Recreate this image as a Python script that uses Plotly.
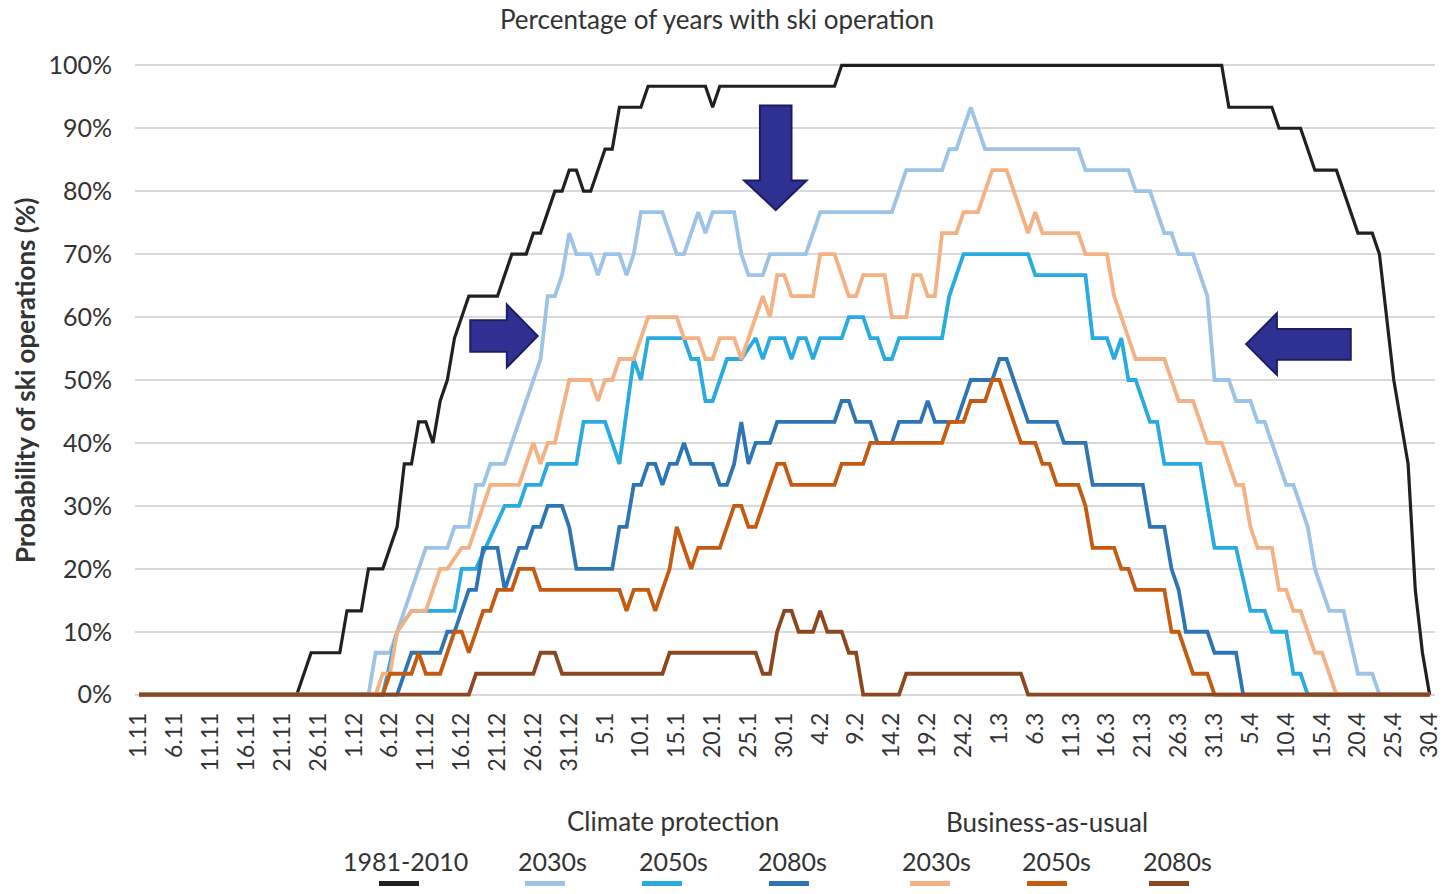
import plotly.graph_objects as go

# x = day index counted from 1 November (0) to 30 April (180)
# y = number of years (out of 30) with ski operation, read at each vertex
N_YEARS = 30

DATE_LABELS = ["1.11", "6.11", "11.11", "16.11", "21.11", "26.11", "1.12", "6.12",
               "11.12", "16.12", "21.12", "26.12", "31.12", "5.1", "10.1", "15.1",
               "20.1", "25.1", "30.1", "4.2", "9.2", "14.2", "19.2", "24.2", "1.3",
               "6.3", "11.3", "16.3", "21.3", "26.3", "31.3", "5.4", "10.4", "15.4",
               "20.4", "25.4", "30.4"]

ref_days = [0, 22, 24, 28, 29, 31, 32, 34, 36, 37, 38, 39, 40, 41, 42, 43, 44, 45, 46, 50,
            52, 54, 55, 56, 58, 59, 60, 61, 62, 63, 65, 66, 67, 70, 71, 79, 80, 81, 97, 98,
            151, 152, 158, 159, 162, 164, 167, 170, 172, 173, 174, 175, 176, 177, 178, 179, 180]
ref_years = [0, 0, 2, 2, 4, 4, 6, 6, 8, 11, 11, 13, 13, 12, 14, 15, 17, 18, 19, 19,
             21, 21, 22, 22, 24, 24, 25, 25, 24, 24, 26, 26, 28, 28, 29, 29, 28, 29, 29, 30,
             30, 28, 28, 27, 27, 25, 25, 22, 22, 21, 18, 15, 13, 11, 5, 2, 0]

cp30_days = [0, 32, 33, 35, 40, 43, 44, 46, 47, 48, 49, 51, 56, 57, 58, 59, 60, 61, 63, 64,
             65, 67, 68, 69, 70, 73, 75, 76, 78, 79, 80, 83, 84, 85, 87, 88, 93, 95, 105, 107,
             112, 113, 114, 116, 118, 131, 132, 138, 139, 141, 143, 144, 145, 147, 149, 150,
             152, 153, 155, 156, 157, 160, 161, 163, 164, 166, 168, 170, 172, 173, 180]
cp30_years = [0, 0, 2, 2, 7, 7, 8, 8, 10, 10, 11, 11, 16, 19, 19, 20, 22, 21, 21, 20,
              21, 21, 20, 21, 23, 23, 21, 21, 23, 22, 23, 23, 21, 20, 20, 21, 21, 23, 23, 25,
              25, 26, 26, 28, 26, 26, 25, 25, 24, 24, 22, 22, 21, 21, 19, 15,
              15, 14, 14, 13, 13, 10, 10, 8, 6, 4, 4, 1, 1, 0, 0]

cp50_days = [0, 34, 36, 38, 44, 45, 47, 51, 53, 54, 56, 57, 61, 62, 65, 67, 69, 70, 71, 76,
             77, 78, 79, 80, 82, 84, 86, 87, 88, 90, 91, 92, 93, 94, 95, 98, 99, 101, 102, 103,
             104, 105, 106, 112, 113, 115, 124, 125, 132, 133, 135, 136, 137, 138, 139, 141,
             142, 143, 148, 150, 153, 155, 157, 158, 160, 161, 162, 163, 180]
cp50_years = [0, 0, 3, 4, 4, 6, 6, 9, 9, 10, 10, 11, 11, 13, 13, 11, 16, 15, 17, 17,
              16, 16, 14, 14, 16, 16, 17, 16, 17, 17, 16, 17, 17, 16, 17, 17, 18, 18, 17, 17,
              16, 16, 17, 17, 19, 21, 21, 20, 20, 17, 17, 16, 17, 15, 15, 13,
              13, 11, 11, 7, 7, 4, 4, 3, 3, 1, 1, 0, 0]

cp80_days = [0, 36, 38, 42, 43, 44, 46, 47, 48, 50, 51, 53, 54, 55, 56, 57, 59, 60, 61, 66,
             67, 68, 69, 70, 71, 72, 73, 74, 75, 76, 77, 80, 81, 82, 83, 84, 85, 86, 88, 89,
             97, 98, 99, 100, 102, 103, 105, 106, 109, 110, 111, 114, 116, 119, 120, 121, 124,
             128, 129, 132, 133, 140, 141, 143, 144, 145, 146, 149, 150, 153, 154, 180]
cp80_years = [0, 0, 2, 2, 3, 3, 5, 5, 7, 7, 5, 7, 7, 8, 8, 9, 9, 8, 6, 6,
              8, 8, 10, 10, 11, 11, 10, 11, 11, 12, 11, 11, 10, 10, 11, 13, 11, 12, 12, 13,
              13, 14, 14, 13, 13, 12, 12, 13, 13, 14, 13, 13, 15, 15, 16, 16, 13,
              13, 12, 12, 10, 10, 8, 8, 6, 5, 3, 3, 2, 2, 0, 0]

bau30_days = [0, 33, 34, 35, 36, 38, 40, 42, 43, 45, 46, 49, 53, 55, 56, 57, 58, 60, 63, 64,
              65, 66, 67, 69, 71, 75, 76, 78, 79, 80, 81, 83, 84, 87, 88, 89, 90, 91, 94, 95,
              97, 99, 100, 101, 104, 105, 107, 108, 109, 110, 111, 112, 114, 115, 117, 119,
              121, 124, 125, 126, 131, 132, 135, 136, 139, 143, 144, 145, 147, 149, 151, 153,
              154, 155, 156, 158, 159, 160, 161, 162, 164, 165, 167, 180]
bau30_years = [0, 0, 1, 1, 3, 4, 4, 6, 6, 7, 7, 10, 10, 12, 11, 12, 12, 15, 15, 14,
               15, 15, 16, 16, 18, 18, 17, 17, 16, 16, 17, 17, 16, 19, 18, 20, 20, 19, 19, 21,
               21, 19, 19, 20, 20, 18, 18, 20, 20, 19, 19, 22, 22, 23, 23, 25,
               25, 22, 23, 22, 22, 21, 21, 19, 16, 16, 15, 14, 14, 12, 12, 10,
               10, 8, 7, 7, 5, 5, 4, 4, 2, 2, 0, 0]

bau50_days = [0, 34, 35, 38, 39, 40, 42, 44, 45, 46, 48, 49, 50, 52, 53, 55, 56, 67, 68, 69,
              71, 72, 74, 75, 77, 78, 81, 83, 84, 85, 86, 89, 90, 91, 97, 98, 101, 102, 112, 113,
              115, 116, 118, 119, 120, 123, 125, 126, 127, 128, 131, 132, 133, 136, 137, 138,
              139, 143, 144, 145, 147, 149, 150, 180]
bau50_years = [0, 0, 1, 1, 2, 1, 1, 3, 3, 2, 4, 4, 5, 5, 6, 6, 5, 5, 4, 5,
               5, 4, 6, 8, 6, 7, 7, 9, 9, 8, 8, 11, 11, 10, 10, 11, 11, 12, 12, 13,
               13, 14, 14, 15, 15, 12, 12, 11, 11, 10, 10, 9, 7, 7, 6, 6,
               5, 5, 3, 3, 1, 1, 0, 0]

bau80_days = [0, 46, 47, 55, 56, 58, 59, 73, 74, 86, 87, 88, 89, 90, 91, 92, 94, 95, 96, 98,
              99, 100, 101, 106, 107, 123, 124, 180]
bau80_years = [0, 0, 1, 1, 2, 2, 1, 1, 2, 2, 1, 1, 3, 4, 4, 3, 3, 4, 3, 3,
               2, 2, 0, 0, 1, 1, 0, 0]

SERIES = [
    ("1981-2010", ref_days, ref_years, "#231F20", 3.2),
    ("2030s", cp30_days, cp30_years, "#9DC3E6", 3.8),
    ("2050s", cp50_days, cp50_years, "#29ABE2", 3.8),
    ("2080s", cp80_days, cp80_years, "#2E75B6", 3.8),
    ("2030s", bau30_days, bau30_years, "#F4B183", 3.8),
    ("2050s", bau50_days, bau50_years, "#C55A11", 3.8),
    ("2080s", bau80_days, bau80_years, "#8B4720", 3.8),
]

# the page body has an 8px margin all round; size the figure so the page is exactly 1447x894
OFF = 8
W, H = 1447 - 2 * OFF, 894 - 2 * OFF
L, R, T, B = 135 - OFF, 1447 - 1435 - OFF, 59 - OFF, H - (701 - OFF)
PW, PH = W - L - R, H - T - B


def px(x):
    # screen pixel -> paper x
    return (x - OFF - L) / PW


def py(y):
    # screen pixel -> paper y
    return (H - B - (y - OFF)) / PH


fig = go.Figure()

for name, days, years, color, width in SERIES:
    fig.add_trace(go.Scatter(
        x=days, y=[v * 100 / N_YEARS for v in years], mode="lines", name=name,
        line=dict(color=color, width=width), showlegend=False,
        hovertemplate="%{y:.1f}%<extra>" + name + "</extra>"))

# navy block arrows
arrow_paths = [
    "M 46.2,54.5 L 51.3,54.5 L 51.3,52.0 L 55.6,57.0 L 51.3,62.0 L 51.3,59.5 L 46.2,59.5 Z",
    "M 86.6,93.6 L 91.0,93.6 L 91.0,81.7 L 93.1,81.7 L 88.8,77.0 L 84.4,81.7 L 86.6,81.7 Z",
    "M 154.4,55.7 L 158.7,60.6 L 158.7,58.1 L 169.0,58.1 L 169.0,53.2 L 158.7,53.2 L 158.7,50.8 Z",
]
for p in arrow_paths:
    fig.add_shape(type="path", path=p, xref="x", yref="y", layer="above",
                  fillcolor="#2E3192", line=dict(color="#1E1C60", width=2))

# custom legend: group headers, labels, and short line swatches below them
TXT = "#333333"
groups = [("Climate protection", 673, 821), ("Business-as-usual", 1047, 822)]
for text, gx, gy in groups:
    fig.add_annotation(text=text, x=px(gx), y=py(gy), xref="paper", yref="paper",
                       showarrow=False, xanchor="center", yanchor="middle",
                       font=dict(size=26, color=TXT))

label_x = [405, 552, 673, 792, 936, 1056, 1177]
swatch_x = [399, 545, 662, 789, 930, 1047, 1169]
for (name, _, _, color, _), lx, sx in zip(SERIES, label_x, swatch_x):
    fig.add_annotation(text=name, x=px(lx), y=py(861), xref="paper", yref="paper",
                       showarrow=False, xanchor="center", yanchor="middle",
                       font=dict(size=25, color=TXT))
    fig.add_shape(type="line", xref="paper", yref="paper",
                  x0=px(sx - 20), x1=px(sx + 20), y0=py(883.5), y1=py(883.5),
                  line=dict(color=color, width=5))

# y-axis title
fig.add_annotation(text="<b>Probability of ski operations (%)</b>", textangle=-90,
                   x=px(25), y=py(381), xref="paper", yref="paper", showarrow=False,
                   xanchor="center", yanchor="middle", font=dict(size=26, color=TXT))

fig.update_layout(
    width=W, height=H,
    margin=dict(l=L, r=R, t=T, b=B, autoexpand=False),
    paper_bgcolor="white", plot_bgcolor="white",
    font=dict(family="Lato, 'Open Sans', sans-serif", color=TXT, size=24),
    title=dict(text="Percentage of years with ski operation", x=(717 - OFF) / W,
               xanchor="center", xref="container", y=1 - 3 / H, yref="container",
               yanchor="top", pad=dict(t=0), font=dict(size=26, color=TXT)),
    showlegend=False,
)

fig.update_xaxes(range=[-0.56, 180.75], tickvals=list(range(0, 181, 5)), ticktext=DATE_LABELS,
                 tickangle=-90, showgrid=False, zeroline=False, showline=False, ticks="",
                 ticklabelstandoff=6, ticklabeloverflow="allow", automargin=False,
                 tickfont=dict(size=23))
fig.update_yaxes(range=[-1, 101], tick0=0, dtick=10, ticksuffix="%", showgrid=True,
                 gridcolor="#D9D9D9", gridwidth=1.5, zeroline=False, showline=False,
                 ticks="", ticklabelstandoff=22, automargin=False, tickfont=dict(size=25))

fig.write_html("out.html")
